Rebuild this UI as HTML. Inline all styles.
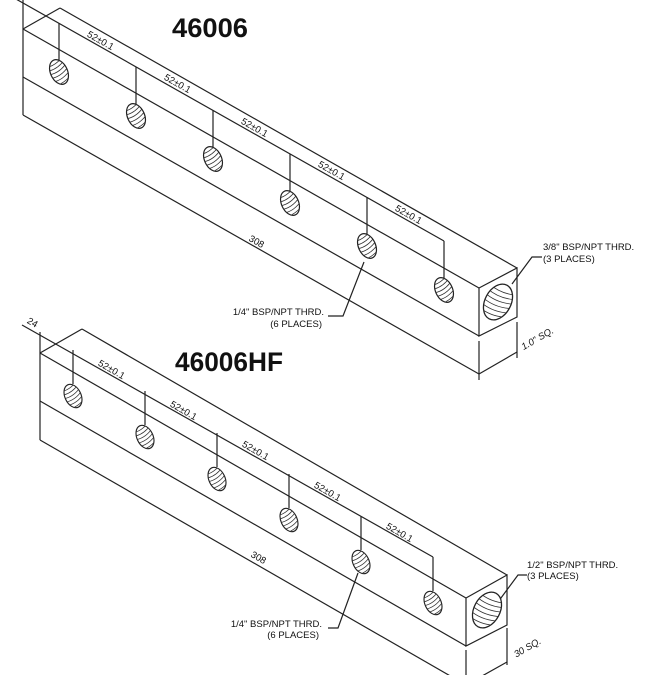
<!DOCTYPE html>
<html><head><meta charset="utf-8"><style>
html,body{margin:0;padding:0;background:#fff;}
svg{display:block;}
text{font-family:"Liberation Sans",sans-serif;fill:#111;}
.t{font-size:9.5px;}
.d{font-size:9.5px;}
</style></head><body>
<svg width="660" height="675" viewBox="0 0 660 675" xmlns="http://www.w3.org/2000/svg">
<defs>
<clipPath id="ch"><ellipse cx="0" cy="0" rx="8.5" ry="13"/></clipPath>
<clipPath id="cH"><ellipse cx="0" cy="0" rx="13" ry="19"/></clipPath>
<g id="h">
<ellipse cx="0" cy="0" rx="8.5" ry="13" fill="#fff" stroke="#222" stroke-width="1.2"/>
<g clip-path="url(#ch)" stroke="#333" stroke-width="0.8" fill="none">
<path d="M-12,-6 Q0,-2 12,-10 M-12,-2 Q0,2 12,-6 M-12,2 Q0,6 12,-2 M-12,6 Q0,10 12,2 M-12,10 Q0,14 12,6 M-12,-10 Q0,-6 12,-14"/>
</g>
</g>
<g id="H">
<ellipse cx="0" cy="0" rx="13" ry="19" fill="#fff" stroke="#222" stroke-width="1.3"/>
<g clip-path="url(#cH)" stroke="#333" stroke-width="0.8" fill="none">
<path d="M-16,-12 Q0,-8 16,-16 M-16,-7 Q0,-3 16,-11 M-16,-2 Q0,2 16,-6 M-16,3 Q0,7 16,-1 M-16,8 Q0,12 16,4 M-16,13 Q0,17 16,9 M-16,18 Q0,22 16,14"/>
</g>
</g>
</defs>
<g stroke="#222" stroke-width="1.2" fill="none">
<line x1="23" y1="29" x2="479" y2="288"/>
<line x1="23" y1="77" x2="479" y2="336"/>
<line x1="60" y1="8" x2="517" y2="268"/>
<line x1="23" y1="29" x2="60" y2="8"/>
<polygon points="479,288 517,268 517,317 479,336"/>
<line x1="23" y1="0" x2="23" y2="115"/>
<line x1="0" y1="-10" x2="444" y2="241"/>
<line x1="23" y1="115" x2="479" y2="374"/>
<line x1="479" y1="341" x2="479" y2="380"/>
<line x1="517" y1="322" x2="517" y2="358"/>
<line x1="479" y1="374" x2="517" y2="352"/>
<line x1="59" y1="23" x2="59" y2="62"/>
<line x1="136" y1="67" x2="136" y2="105"/>
<line x1="213" y1="110" x2="213" y2="148"/>
<line x1="290" y1="154" x2="290" y2="192"/>
<line x1="367" y1="197" x2="367" y2="235"/>
<line x1="444" y1="241" x2="444" y2="278"/>
<polyline points="542,257 532,257 512,284"/>
<polyline points="328,316 343,316 364,262"/>
<line x1="40" y1="353" x2="466" y2="598"/>
<line x1="40" y1="401" x2="466" y2="646"/>
<line x1="82" y1="329" x2="507" y2="575"/>
<line x1="40" y1="353" x2="82" y2="329"/>
<polygon points="466,598 507,575 507,625 466,646"/>
<line x1="40" y1="332" x2="40" y2="440"/>
<line x1="22" y1="325" x2="433" y2="557"/>
<line x1="40" y1="440" x2="466" y2="685"/>
<line x1="466" y1="650" x2="466" y2="675"/>
<line x1="507" y1="628" x2="507" y2="665"/>
<line x1="507" y1="662" x2="466" y2="685"/>
<line x1="73" y1="350" x2="73" y2="384"/>
<line x1="145" y1="391" x2="145" y2="425"/>
<line x1="217" y1="433" x2="217" y2="467"/>
<line x1="289" y1="474" x2="289" y2="508"/>
<line x1="361" y1="516" x2="361" y2="550"/>
<line x1="433" y1="557" x2="433" y2="591"/>
<polyline points="527,575 518,575 498,602"/>
<polyline points="328,628 338,628 358,573"/>
</g>
<use href="#h" transform="translate(59,72) rotate(-25)"/>
<use href="#h" transform="translate(136,116) rotate(-25)"/>
<use href="#h" transform="translate(213,159) rotate(-25)"/>
<use href="#h" transform="translate(290,203) rotate(-25)"/>
<use href="#h" transform="translate(367,246) rotate(-25)"/>
<use href="#h" transform="translate(444,290) rotate(-25)"/>
<use href="#H" transform="translate(498,302) rotate(28)"/>
<use href="#h" transform="translate(73,396) rotate(-25) scale(0.95)"/>
<use href="#h" transform="translate(145,437) rotate(-25) scale(0.95)"/>
<use href="#h" transform="translate(217,479) rotate(-25) scale(0.95)"/>
<use href="#h" transform="translate(289,520) rotate(-25) scale(0.95)"/>
<use href="#h" transform="translate(361,562) rotate(-25) scale(0.95)"/>
<use href="#h" transform="translate(433,603) rotate(-25) scale(0.95)"/>
<use href="#H" transform="translate(487,610) rotate(28)"/>
<text x="172" y="37" style="font-size:27px;font-weight:bold;" textLength="76" lengthAdjust="spacingAndGlyphs">46006</text>
<text x="175" y="371" style="font-size:27px;font-weight:bold;" textLength="108" lengthAdjust="spacingAndGlyphs">46006HF</text>
<g class="d" text-anchor="middle">
<text transform="translate(98,45) rotate(29.6)" y="-2">52±0.1</text>
<text transform="translate(175,88) rotate(29.6)" y="-2">52±0.1</text>
<text transform="translate(252,132) rotate(29.6)" y="-2">52±0.1</text>
<text transform="translate(329,175) rotate(29.6)" y="-2">52±0.1</text>
<text transform="translate(406,219) rotate(29.6)" y="-2">52±0.1</text>
<text transform="translate(254,246) rotate(29.6)" y="-2">308</text>
<text transform="translate(109,374) rotate(29.8)" y="-2">52±0.1</text>
<text transform="translate(181,415) rotate(29.8)" y="-2">52±0.1</text>
<text transform="translate(253,455) rotate(29.8)" y="-2">52±0.1</text>
<text transform="translate(325,496) rotate(29.8)" y="-2">52±0.1</text>
<text transform="translate(397,537) rotate(29.8)" y="-2">52±0.1</text>
<text transform="translate(256,562) rotate(29.8)" y="-2">308</text>
<text transform="translate(30,327) rotate(29.8)" y="-2">24</text>
<text transform="translate(540,343) rotate(-30)" y="-2" style="font-style:italic">1.0" SQ.</text>
<text transform="translate(530,652) rotate(-30)" y="-2" style="font-style:italic">30 SQ.</text>
</g>
<text class="t" x="543" y="250">3/8" BSP/NPT THRD.</text>
<text class="t" x="543" y="262">(3 PLACES)</text>
<text class="t" x="324" y="315" text-anchor="end">1/4" BSP/NPT THRD.</text>
<text class="t" x="322" y="327" text-anchor="end">(6 PLACES)</text>
<text class="t" x="527" y="568">1/2" BSP/NPT THRD.</text>
<text class="t" x="527" y="579">(3 PLACES)</text>
<text class="t" x="322" y="627" text-anchor="end">1/4" BSP/NPT THRD.</text>
<text class="t" x="319" y="638" text-anchor="end">(6 PLACES)</text>
</svg>
</body></html>
